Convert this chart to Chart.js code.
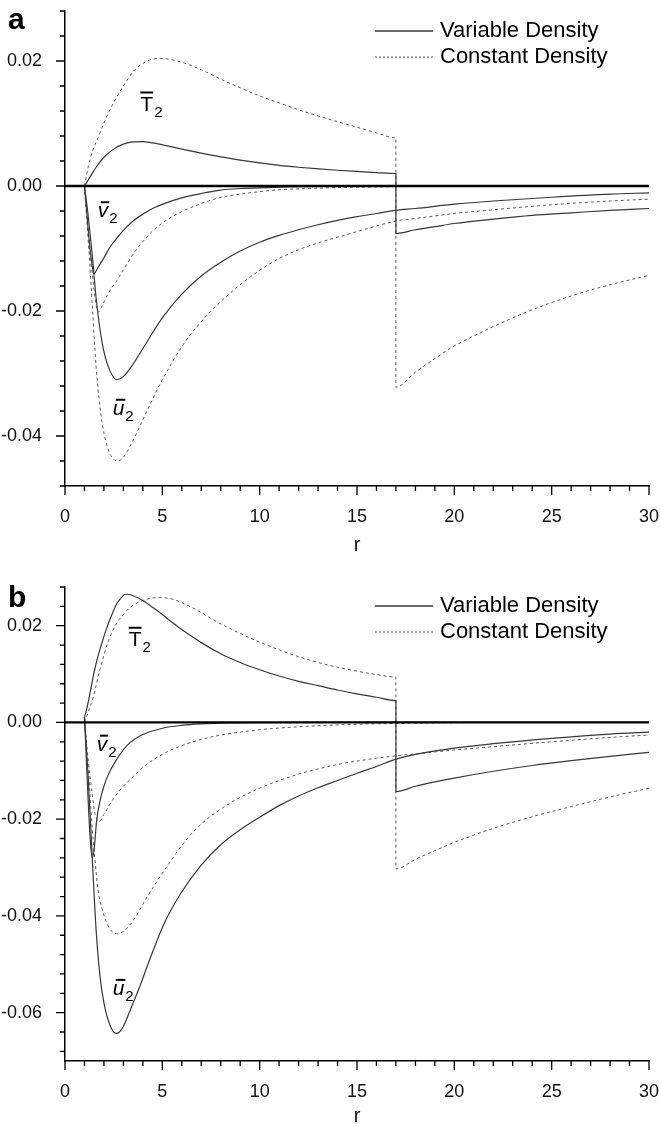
<!DOCTYPE html>
<html>
<head>
<meta charset="UTF-8">
<script src="https://cdn.jsdelivr.net/npm/chart.js"></script>
<title>Variable / Constant Density</title>
<style>
  body { margin: 0; background: #fff; }
  .panel { position: absolute; left: 0; width: 660px; }
</style>
</head>
<body>
<div class="panel" style="top:0; height:563px;"><canvas id="chartA"></canvas></div>
<div class="panel" style="top:563px; height:564px;"><canvas id="chartB"></canvas></div>
<script>
// tick labels
const xTicks = [0, 5, 10, 15, 20, 25, 30];
const yTicksA = [-0.04, -0.02, 0.00, 0.02];
const yTicksB = [-0.06, -0.04, -0.02, 0.00, 0.02];

// ---- panel a ----
const rT2VarA = [1, 1.3, 1.6, 2.0, 2.5, 3.0, 3.5, 4.0, 4.5, 5.2, 6, 7, 8, 9, 10, 11, 12, 13, 14, 15, 16, 17, 17, 18, 19, 20, 22, 24, 26, 28, 30];
const T2VarA = [0, 0.0015, 0.0030, 0.0046, 0.0059, 0.0067, 0.00705, 0.0071, 0.0069, 0.00645, 0.0059, 0.00525, 0.00465, 0.00415, 0.0037, 0.0033, 0.0030, 0.00275, 0.00252, 0.00233, 0.00215, 0.0020, -0.0076, -0.0070, -0.0065, -0.0060, -0.0053, -0.0047, -0.0043, -0.0039, -0.0036];
const rT2ConA = [1, 1.28, 1.8, 2.2, 2.67, 3.0, 3.5, 4.0, 4.5, 5.0, 5.5, 6.0, 7, 8, 9, 10, 11, 12, 13, 14, 15, 16, 17, 17, 18, 19, 20, 21, 22, 24, 26, 28, 30];
const T2ConA = [0, 0.0042, 0.0085, 0.0115, 0.0143, 0.0160, 0.0183, 0.0196, 0.0203, 0.0204, 0.0202, 0.0198, 0.0186, 0.0171, 0.0157, 0.0144, 0.0133, 0.0122, 0.0112, 0.0103, 0.0094, 0.0085, 0.0077, -0.0322, -0.0298, -0.0276, -0.0256, -0.0240, -0.0225, -0.0198, -0.0176, -0.0158, -0.0143];
const rV2VarA = [1, 1.15, 1.3, 1.49, 1.7, 2.0, 2.31, 2.7, 3.0, 3.5, 4.0, 4.5, 5.2, 6, 7, 7.9, 9, 10, 12, 14, 17, 20, 25, 30];
const V2VarA = [0, -0.0055, -0.0105, -0.0140, -0.0130, -0.0115, -0.0098, -0.0082, -0.0071, -0.0056, -0.0045, -0.0036, -0.0027, -0.0019, -0.0012, -0.0007, -0.0004, -0.0003, -0.0001, -0.00005, 0, 0, 0, 0];
const rV2ConA = [1, 1.2, 1.4, 1.55, 1.7, 1.9, 2.2, 2.67, 3.0, 3.5, 4.0, 4.5, 5.2, 6, 7, 7.9, 9, 10, 11, 12, 14, 17, 20, 25, 30];
const V2ConA = [0, -0.0075, -0.0140, -0.0180, -0.0202, -0.0192, -0.0173, -0.0151, -0.0134, -0.0109, -0.0089, -0.0072, -0.0055, -0.0041, -0.0028, -0.0019, -0.0013, -0.0009, -0.0006, -0.00045, -0.00025, -0.0001, -0.00005, 0, 0];
const rU2VarA = [1, 1.2, 1.4, 1.6, 1.8, 2.0, 2.3, 2.67, 3.0, 3.5, 4, 5, 6, 7, 8, 9, 10, 11, 12, 13, 14, 15, 16, 17, 18, 20, 22, 25, 28, 30];
const U2VarA = [0, -0.0050, -0.0110, -0.0180, -0.0230, -0.0265, -0.0295, -0.0310, -0.0305, -0.0285, -0.0260, -0.0211, -0.0173, -0.0144, -0.0122, -0.0104, -0.0090, -0.0079, -0.0070, -0.0062, -0.0055, -0.0049, -0.0044, -0.0039, -0.0036, -0.0029, -0.0024, -0.0018, -0.0013, -0.0011];
const rU2ConA = [1, 1.2, 1.4, 1.6, 1.8, 2.0, 2.3, 2.72, 3.0, 3.5, 4.0, 4.5, 5, 6, 7, 8, 9, 10, 11, 12, 13, 14, 15, 16, 17, 18, 20, 22, 25, 28, 30];
const U2ConA = [0, -0.0090, -0.0190, -0.0290, -0.0355, -0.0395, -0.0428, -0.0440, -0.0434, -0.0407, -0.0374, -0.0341, -0.0310, -0.0257, -0.0217, -0.0185, -0.0158, -0.0135, -0.0116, -0.0102, -0.0091, -0.0082, -0.0073, -0.0064, -0.0056, -0.0052, -0.0044, -0.0038, -0.0030, -0.0024, -0.0021];

// ---- panel b ----
const rT2VarB = [1, 1.1, 1.28, 1.45, 1.63, 1.9, 2.15, 2.4, 2.65, 2.85, 3.1, 3.5, 4.0, 4.5, 5.0, 5.5, 6, 7, 8, 9, 10, 11, 12, 13, 14, 15, 16, 17, 17, 18, 19, 20, 22, 24, 26, 28, 30];
const T2VarB = [0.0012, 0.0025, 0.0060, 0.0095, 0.0127, 0.0165, 0.0196, 0.0222, 0.0245, 0.0256, 0.0265, 0.0262, 0.0252, 0.0238, 0.0223, 0.0207, 0.0192, 0.0165, 0.0142, 0.0124, 0.0109, 0.0096, 0.0085, 0.0076, 0.0067, 0.0059, 0.0052, 0.0045, -0.0143, -0.0132, -0.0123, -0.0115, -0.0101, -0.0089, -0.0079, -0.0070, -0.0062];
const rT2ConB = [1, 1.43, 1.8, 2.2, 2.65, 3.0, 3.35, 4.0, 4.7, 5.5, 6.5, 7.9, 9, 10, 11, 12, 13, 14, 15, 16, 17, 17, 18, 19, 20, 21, 22, 24, 26, 28, 30];
const T2ConB = [0, 0.0050, 0.0110, 0.0165, 0.0205, 0.0223, 0.0238, 0.0252, 0.0258, 0.0255, 0.0238, 0.0206, 0.0184, 0.0166, 0.0150, 0.0136, 0.0124, 0.0114, 0.0106, 0.0099, 0.0094, -0.0303, -0.0283, -0.0265, -0.0248, -0.0233, -0.0219, -0.0195, -0.0174, -0.0154, -0.0136];
const rV2VarB = [1, 1.1, 1.2, 1.3, 1.4, 1.5, 1.62, 1.8, 2.0, 2.2, 2.6, 3.2, 3.6, 4.0, 5.0, 6.0, 7.0, 8.0, 10, 12, 15, 20, 30];
const V2VarB = [0.0012, -0.0080, -0.0170, -0.0245, -0.0280, -0.0262, -0.0205, -0.0162, -0.0132, -0.0110, -0.0080, -0.0047, -0.0034, -0.0025, -0.0012, -0.0006, -0.0003, -0.00015, -0.00005, 0, 0, 0, 0];
const rV2ConB = [1, 1.2, 1.4, 1.55, 1.75, 2.0, 2.5, 3.0, 3.5, 4.0, 5.0, 6.0, 7.0, 8.0, 9.0, 10, 12, 14, 17, 20, 25, 30];
const V2ConB = [0, -0.0080, -0.0150, -0.0190, -0.0205, -0.0190, -0.0157, -0.0132, -0.0112, -0.0093, -0.0066, -0.0048, -0.0035, -0.0026, -0.0020, -0.0015, -0.0009, -0.0005, -0.0002, -0.00005, 0, 0];
const rU2VarB = [1, 1.2, 1.4, 1.6, 1.8, 2.0, 2.3, 2.62, 2.8, 3.0, 3.35, 3.85, 4.4, 5.1, 6, 7, 8, 9, 10, 11, 12, 13, 14, 15, 16, 17, 18, 20, 22, 25, 28, 30];
const U2VarB = [0.0012, -0.0120, -0.0280, -0.0430, -0.0525, -0.0580, -0.0625, -0.0643, -0.0640, -0.0628, -0.0595, -0.0545, -0.0485, -0.0415, -0.0350, -0.0295, -0.0253, -0.0222, -0.0196, -0.0172, -0.0152, -0.0135, -0.0120, -0.0105, -0.0091, -0.0076, -0.0066, -0.0053, -0.0044, -0.0033, -0.0024, -0.0020];
const rU2ConB = [1, 1.2, 1.4, 1.53, 1.7, 1.9, 2.15, 2.4, 2.7, 3.0, 3.5, 4.2, 5.2, 6.2, 7.0, 7.9, 9, 10, 11, 12, 13, 14, 15, 16, 17, 18, 20, 22, 25, 28, 30];
const U2ConB = [0, -0.0100, -0.0220, -0.0280, -0.0348, -0.0385, -0.0415, -0.0432, -0.0437, -0.0432, -0.0410, -0.0362, -0.0300, -0.0244, -0.0210, -0.0182, -0.0155, -0.0136, -0.0120, -0.0107, -0.0096, -0.0087, -0.0080, -0.0074, -0.0069, -0.0065, -0.0057, -0.0050, -0.0040, -0.0031, -0.0026];

// zero reference line
const rZero = [0, 30];
const zeroLine = [0, 0];

const FONT = "'Liberation Sans', Arial, sans-serif";

function pts(rs, vs) {
    return rs.map((r, i) => ({x: r, y: vs[i]}));
}

function solid(rs, vs) {
    return { data: pts(rs, vs), borderColor: '#383838', borderWidth: 1.2, order: 1 };
}
function dashed(rs, vs) {
    return { data: pts(rs, vs), borderColor: '#5a5a5a', borderWidth: 1, borderDash: [3, 3], order: 1 };
}

// tick marks: long for labelled values, short for minor steps
const tickMarks = {
    id: 'tickMarks',
    afterDraw(chart, args, opts) {
        const ctx = chart.ctx;
        const xs = chart.scales.x, ys = chart.scales.y;
        ctx.save();
        ctx.strokeStyle = '#000';
        ctx.lineWidth = 1.3;
        ctx.beginPath();
        for (let k = 0; k * opts.xMinor <= xs.max + 1e-9; k++) {
            const v = k * opts.xMinor;
            const major = xTicks.some(t => Math.abs(t - v) < 1e-9);
            const px = xs.getPixelForValue(v);
            ctx.moveTo(px, xs.top);
            ctx.lineTo(px, xs.top + (major ? 9 : 5));
        }
        const start = Math.ceil(ys.min / opts.yMinor - 1e-6);
        for (let k = start; k * opts.yMinor <= ys.max + 1e-9; k++) {
            const v = k * opts.yMinor;
            const major = opts.yMajor.some(t => Math.abs(t - v) < 1e-9);
            const py = ys.getPixelForValue(v);
            ctx.moveTo(ys.right, py);
            ctx.lineTo(ys.right - (major ? 9 : 5), py);
        }
        ctx.stroke();
        ctx.restore();
    }
};

// legend drawn inside the plot, and the curve names with overbars
const legendAndLabels = {
    id: 'legendAndLabels',
    afterDraw(chart, args, opts) {
        const ctx = chart.ctx;
        const area = chart.chartArea;
        const xs = chart.scales.x, ys = chart.scales.y;
        ctx.save();

        // panel letter
        ctx.fillStyle = '#000';
        ctx.font = 'bold 30px ' + FONT;
        ctx.textBaseline = 'middle';
        ctx.textAlign = 'left';
        ctx.fillText(opts.letter, 8, opts.letterY);

        // legend
        const rows = [
            {text: 'Variable Density', color: '#383838', dash: [], width: 1.3},
            {text: 'Constant Density', color: '#5a5a5a', dash: [2, 2], width: 1}
        ];
        ctx.font = '22px ' + FONT;
        rows.forEach((row, i) => {
            const y = area.top + opts.legendY[i];
            ctx.strokeStyle = row.color;
            ctx.lineWidth = row.width;
            ctx.setLineDash(row.dash);
            ctx.beginPath();
            ctx.moveTo(area.left + 310, y);
            ctx.lineTo(area.left + 368, y);
            ctx.stroke();
            ctx.fillText(row.text, area.left + 375, y);
        });
        ctx.setLineDash([]);

        // curve names
        opts.names.forEach(n => {
            const px = xs.getPixelForValue(n.r);
            const py = ys.getPixelForValue(n.v);
            ctx.font = (n.italic ? 'italic ' : '') + '21px ' + FONT;
            ctx.textAlign = 'center';
            ctx.textBaseline = 'alphabetic';
            const w = ctx.measureText(n.letter).width;
            const base = py + (n.italic ? 5 : 7.5);
            ctx.fillText(n.letter, px, base);
            const top = n.italic ? base - 11.5 : base - 15;
            ctx.lineWidth = 2;
            ctx.strokeStyle = '#000';
            ctx.beginPath();
            const shift = n.italic ? 2 : 0;
            ctx.moveTo(px - w / 2 + shift + (n.italic ? 1 : 0), top - 3.5);
            ctx.lineTo(px + w / 2 + shift - (n.italic ? 1 : 0), top - 3.5);
            ctx.stroke();
            ctx.font = '15px ' + FONT;
            ctx.textAlign = 'left';
            ctx.fillText('2', px + w / 2 + 1, base + 6);
        });
        ctx.restore();
    }
};

function makeChart(id, datasets, cfg) {
    return new Chart(document.getElementById(id), {
        type: 'line',
        data: { datasets: datasets },
        options: {
            responsive: true,
            maintainAspectRatio: false,
            animation: false,
            layout: { padding: { top: cfg.padTop, right: 11, left: 0, bottom: 0 } },
            elements: {
                point: { radius: 0 },
                line: { cubicInterpolationMode: 'monotone', fill: false }
            },
            plugins: {
                legend: { display: false },
                tooltip: { enabled: false },
                tickMarks: { xMinor: 1, yMinor: 0.004, yMajor: cfg.yTicks },
                legendAndLabels: { letter: cfg.letter, letterY: cfg.letterY, legendY: cfg.legendY, names: cfg.names }
            },
            scales: {
                x: {
                    type: 'linear',
                    min: 0,
                    max: 30,
                    afterBuildTicks: s => { s.ticks = xTicks.map(v => ({value: v})); },
                    afterFit: s => { s.height = cfg.xHeight; s.paddingLeft = 0; s.paddingRight = 0; },
                    grid: { display: false },
                    border: { display: true, color: '#000', width: 1.5 },
                    ticks: { color: '#111', padding: 12, font: { family: FONT, size: 18 }, maxRotation: 0 },
                    title: { display: true, text: 'r', color: '#111', font: { family: FONT, size: 20, lineHeight: 1 }, padding: { top: 0, bottom: cfg.titlePad } }
                },
                y: {
                    type: 'linear',
                    min: cfg.yMin,
                    max: cfg.yMax,
                    afterBuildTicks: s => { s.ticks = cfg.yTicks.map(v => ({value: v})); },
                    afterFit: s => { s.width = 65; s.paddingTop = 0; s.paddingBottom = 0; },
                    grid: { display: false },
                    border: { display: true, color: '#000', width: 1.5 },
                    ticks: { color: '#111', padding: 15, font: { family: FONT, size: 18 }, callback: v => v.toFixed(2) }
                }
            }
        },
        plugins: [tickMarks, legendAndLabels]
    });
}

const zeroSet = { data: pts(rZero, zeroLine), borderColor: '#000', borderWidth: 2.3, order: 0 };

makeChart('chartA', [
    Object.assign({}, zeroSet),
    solid(rT2VarA, T2VarA), dashed(rT2ConA, T2ConA),
    solid(rV2VarA, V2VarA), dashed(rV2ConA, V2ConA),
    solid(rU2VarA, U2VarA), dashed(rU2ConA, U2ConA)
], {
    padTop: 11, xHeight: 77, titlePad: 8, yMin: -0.048, yMax: 0.028, yTicks: yTicksA,
    letter: 'a', letterY: 21, legendY: [20, 46],
    names: [
        {letter: 'T', r: 4.2, v: 0.0132, italic: false},
        {letter: 'v', r: 1.95, v: -0.0042, italic: true},
        {letter: 'u', r: 2.75, v: -0.0358, italic: true}
    ]
});

makeChart('chartB', [
    Object.assign({}, zeroSet),
    solid(rT2VarB, T2VarB), dashed(rT2ConB, T2ConB),
    solid(rV2VarB, V2VarB), dashed(rV2ConB, V2ConB),
    solid(rU2VarB, U2VarB), dashed(rU2ConB, U2ConB)
], {
    padTop: 24, xHeight: 66, titlePad: 0.5, yMin: -0.07, yMax: 0.028, yTicks: yTicksB,
    letter: 'b', letterY: 36, legendY: [19, 45],
    names: [
        {letter: 'T', r: 3.6, v: 0.0173, italic: false},
        {letter: 'v', r: 1.9, v: -0.0048, italic: true},
        {letter: 'u', r: 2.75, v: -0.0553, italic: true}
    ]
});
</script>
</body>
</html>
